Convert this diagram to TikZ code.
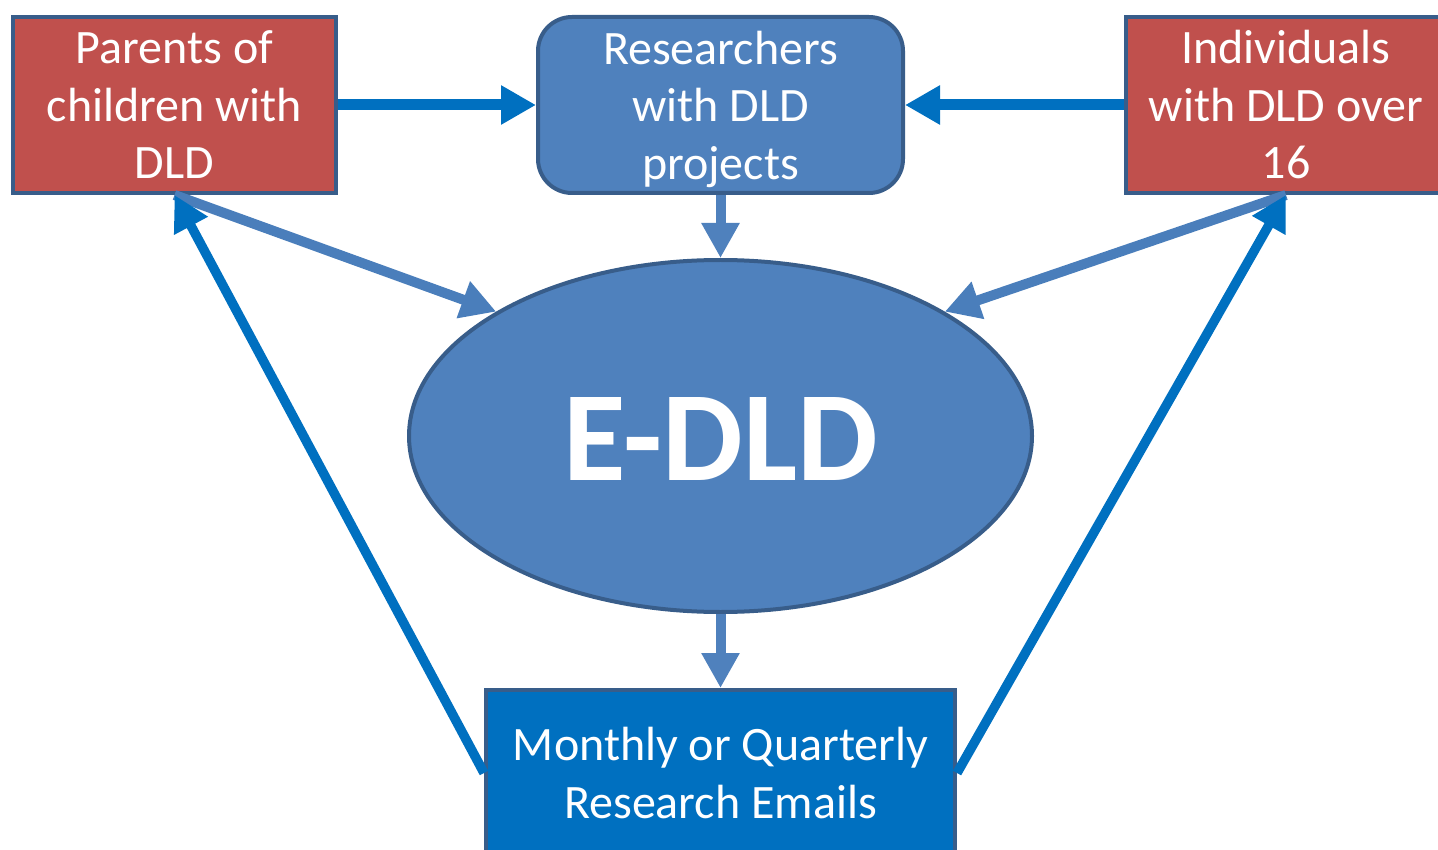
\documentclass[tikz,border=0pt]{standalone}
\usepackage{fontspec}
\setmainfont{Carlito}
\usetikzlibrary{shapes.geometric,arrows.meta}
\definecolor{redf}{HTML}{C0504D}
\definecolor{bluef}{HTML}{4F81BD}
\definecolor{edgec}{HTML}{385D8A}
\definecolor{strong}{HTML}{0070C0}
\definecolor{soft}{HTML}{4A7EBB}
\tikzset{
  boxtext/.style={text=white, align=center, font=\fontsize{48}{57.5}\selectfont, inner sep=0pt},
  redbox/.style={boxtext, rectangle, fill=redf, draw=edgec, line width=4pt},
  roundbox/.style={boxtext, rectangle, rounded corners=34pt, fill=bluef, draw=edgec, line width=4pt},
  mailbox/.style={boxtext, rectangle, fill=strong, draw=edgec, line width=4pt},
  strongarrow/.style={draw=strong, line width=11pt, -{Triangle[length=35pt,width=37pt]}},
  softarrow/.style={draw=soft, line width=10pt, -{Triangle[length=35pt,width=37pt]}},
  vertarrow/.style={draw=bluef, line width=10pt, -{Triangle[length=35pt,width=36pt]}},
  longarrow/.style={draw=strong, line width=9.5pt, -{Triangle[length=35pt,width=36pt]}},
}
\begin{document}
\begin{tikzpicture}[x=1pt,y=-1pt]
\useasboundingbox (0,0) rectangle (1438,850);
\node[redbox, minimum width=323pt, minimum height=176pt] (par) at (174.5,105) {Parents of\\children with\\DLD};
\node[roundbox, minimum width=365pt, minimum height=176pt] (res) at (720.5,105) {Researchers\\with DLD\\\smash{projects}};
\node[redbox, minimum width=320pt, minimum height=176pt] (ind) at (1286,105) {Individuals\\with DLD over\\16};
\node[ellipse, fill=bluef, draw=edgec, line width=4pt, minimum width=623pt, minimum height=352pt, inner sep=0pt,
      text=white, font=\fontsize{128}{128}\bfseries\selectfont, text height=89pt, text depth=0pt] (ell) at (720.5,436) {E-DLD};
\node[mailbox, minimum width=469pt, minimum height=166pt] (em) at (720.5,773) {Monthly or Quarterly\\Research Emails};
\draw[strongarrow] (par.east) -- (res.west);
\draw[strongarrow] (ind.west) -- (res.east);
\draw[vertarrow] (res.south) -- (ell.north);
\draw[softarrow] (par.south) -- (ell.151);
\draw[softarrow] (ind.south) -- (ell.29);
\draw[vertarrow] (ell.south) -- (em.north);
\draw[longarrow] (em.west) -- (par.south);
\draw[longarrow] (em.east) -- (ind.south);
\end{tikzpicture}
\end{document}
